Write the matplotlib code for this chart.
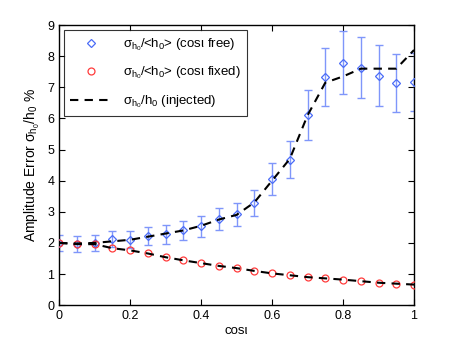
import matplotlib
matplotlib.use("Agg")
import matplotlib.pyplot as plt
from matplotlib.lines import Line2D

plt.rcParams['font.family'] = ['Liberation Sans', 'DejaVu Sans']
plt.rcParams['mathtext.fontset'] = 'custom'
plt.rcParams['mathtext.rm'] = 'Liberation Sans'
plt.rcParams['mathtext.it'] = 'Liberation Sans'

cosi = [0.0, 0.05, 0.1, 0.15, 0.2, 0.25, 0.3, 0.35, 0.4, 0.45, 0.5,
        0.55, 0.6, 0.65, 0.7, 0.75, 0.8, 0.85, 0.9, 0.95, 1.0]
free_mean = [2.0, 1.97, 2.01, 2.12, 2.1, 2.22, 2.28, 2.4, 2.53, 2.77, 2.92,
             3.28, 4.05, 4.67, 6.1, 7.33, 7.79, 7.63, 7.38, 7.14, 7.17]
free_err = [0.27, 0.25, 0.26, 0.25, 0.27, 0.29, 0.3, 0.3, 0.34, 0.35, 0.37,
            0.42, 0.52, 0.6, 0.8, 0.94, 1.01, 0.98, 0.97, 0.92, 0.92]
free_inj = [2.0, 1.98, 2.0, 2.05, 2.1, 2.2, 2.3, 2.4, 2.55, 2.75, 2.9,
            3.3, 4.0, 4.7, 6.1, 7.15, 7.35, 7.6, 7.6, 7.6, 8.2]
fixed_mean = [2.0, 1.96, 1.96, 1.83, 1.76, 1.66, 1.54, 1.44, 1.35, 1.26, 1.19,
              1.1, 1.02, 0.96, 0.9, 0.86, 0.82, 0.77, 0.72, 0.69, 0.66]

fig = plt.figure(figsize=(4.58, 3.44), dpi=100)
ax = fig.add_axes([0.129, 0.113, 0.775, 0.814])

blue = '#4a6cf7'
ebar = '#7f96fa'
red = '#ff3b3b'

ax.errorbar(cosi, free_mean, yerr=free_err, fmt='none', ecolor=ebar,
            elinewidth=1.0, capsize=3, capthick=1.0, zorder=2)
ax.plot(cosi, free_mean, linestyle='none', marker='D', markersize=4.5,
        markerfacecolor='none', markeredgecolor=blue, markeredgewidth=0.9, zorder=3)
ax.plot(cosi, fixed_mean, linestyle='none', marker='o', markersize=5,
        markerfacecolor='none', markeredgecolor=red, markeredgewidth=0.9, zorder=3)
ax.plot(cosi, free_inj, 'k--', linewidth=1.5, dashes=(4, 3), zorder=4)
ax.plot(cosi, fixed_mean, 'k--', linewidth=1.5, dashes=(4, 3), zorder=4)

ax.set_xlim(0, 1)
ax.set_ylim(0, 9)
ax.set_xticks([0, 0.2, 0.4, 0.6, 0.8, 1])
ax.set_xticklabels(['0', '0.2', '0.4', '0.6', '0.8', '1'])
ax.set_yticks(range(0, 10))
ax.tick_params(direction='in', top=True, right=True, labelsize=9, length=4, width=0.8)
for s in ax.spines.values():
    s.set_linewidth(1.0)

ax.set_xlabel('cos\u03b9', fontsize=9.5, labelpad=2)
ax.set_ylabel(r'Amplitude Error $\sigma_{h_0}$/h$_0$ %', fontsize=10, labelpad=4)

handles = [
    Line2D([], [], linestyle='none', marker='D', markersize=4.5,
           markerfacecolor='none', markeredgecolor=blue, markeredgewidth=0.9),
    Line2D([], [], linestyle='none', marker='o', markersize=5,
           markerfacecolor='none', markeredgecolor=red, markeredgewidth=0.9),
    Line2D([], [], color='k', linestyle='--', linewidth=1.5, dashes=(4, 3)),
]
labels = [r'$\sigma_{h_0}$/<h$_0$> (cos' + '\u03b9 free)',
          r'$\sigma_{h_0}$/<h$_0$> (cos' + '\u03b9 fixed)',
          r'$\sigma_{h_0}$/h$_0$ (injected)']
leg = ax.legend(handles, labels, loc='upper left', fontsize=9.5, frameon=True,
                fancybox=False, edgecolor='k', borderaxespad=0.35,
                handlelength=3.2, labelspacing=0.9, borderpad=0.5)
leg.get_frame().set_linewidth(0.8)

fig.savefig('out.png', dpi=100)
